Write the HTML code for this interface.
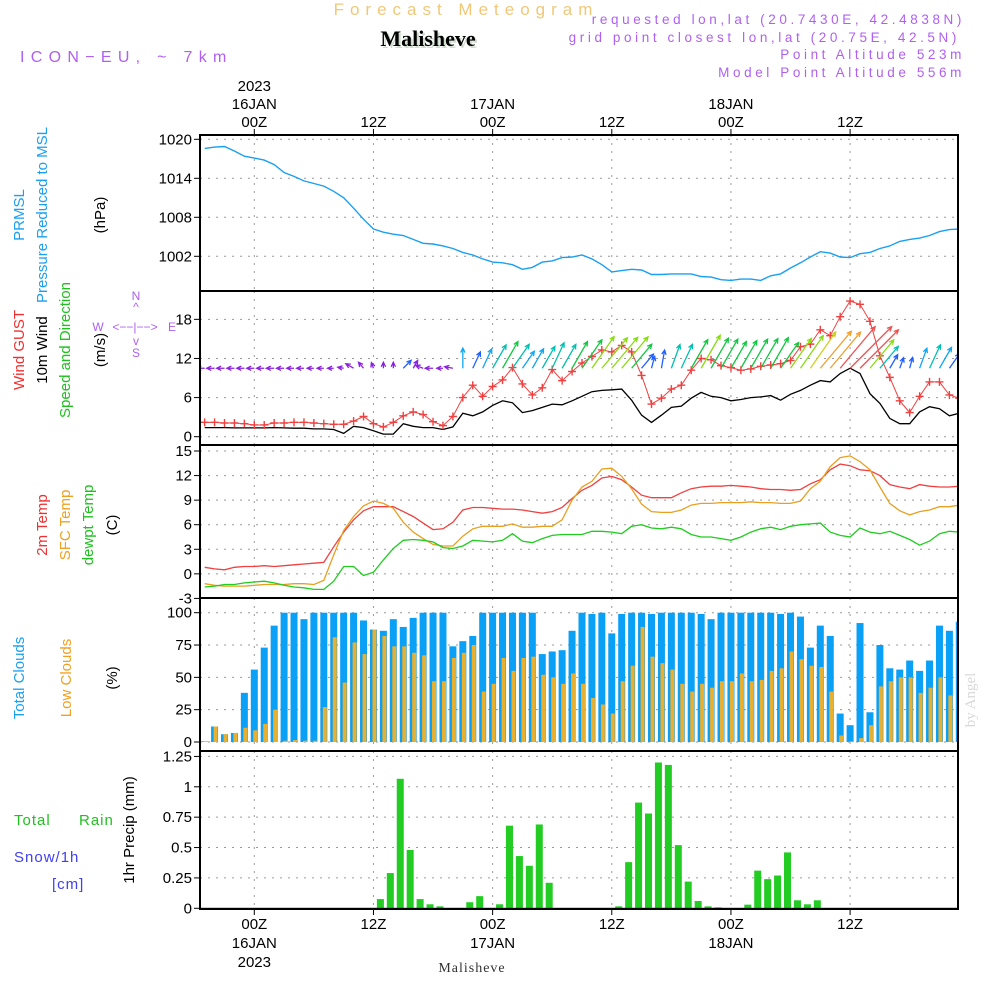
<!DOCTYPE html>
<html><head><meta charset="utf-8"><style>
html,body{margin:0;padding:0;background:#fff;}
svg{display:block;font-family:"Liberation Sans",sans-serif;}
</style></head><body>
<svg id="chart" width="1000" height="1000" viewBox="0 0 1000 1000">
<defs><clipPath id="plotClip"><rect x="200" y="135" width="758" height="774"/></clipPath></defs>
<g id="gGrid"></g>
<g id="gMarks" clip-path="url(#plotClip)"></g>
<g id="gFrame"></g>
<g id="gText">
<text x="466" y="15" font-size="17" fill="#f0c878" text-anchor="middle" letter-spacing="6">Forecast Meteogram</text>
<text x="430" y="48" font-size="22" font-weight="bold" font-family="Liberation Serif,serif" text-anchor="middle" fill="#cfdccf">Malisheve</text>
<text x="428" y="46" font-size="22" font-weight="bold" font-family="Liberation Serif,serif" text-anchor="middle" fill="#000">Malisheve</text>
<text x="20" y="62" font-size="16" fill="#b060f0" letter-spacing="6.3">ICON−EU, ~ 7km</text>
<g font-size="13.5" fill="#b060f0" text-anchor="end" letter-spacing="3.6">
<text x="965" y="24">requested lon,lat (20.7430E, 42.4838N)</text>
<text x="960" y="42">grid point closest lon,lat (20.75E, 42.5N)</text>
<text x="965" y="59">Point Altitude 523m</text>
<text x="965" y="77">Model Point Altitude 556m</text>
</g>
<text x="975" y="700" font-size="15" fill="#d8d8d8" font-family="Liberation Serif,serif" transform="rotate(-90 975 700)" text-anchor="middle">by Angel</text>
<text x="472" y="972" font-size="14" font-family="Liberation Serif,serif" fill="#333" text-anchor="middle" letter-spacing="1">Malisheve</text>
<g font-size="15" text-anchor="middle">
<text transform="translate(24,215) rotate(-90)" fill="#1aa0f0">PRMSL</text>
<text transform="translate(47,215) rotate(-90)" fill="#1aa0f0">Pressure Reduced to MSL</text>
<text transform="translate(105,215) rotate(-90)" fill="#000">(hPa)</text>
</g>
<g font-size="15" text-anchor="middle">
<text transform="translate(24,350) rotate(-90)" fill="#f03030">Wind GUST</text>
<text transform="translate(47,350) rotate(-90)" fill="#000">10m Wind</text>
<text transform="translate(70,350) rotate(-90)" fill="#20c020">Speed and Direction</text>
<text transform="translate(105,350) rotate(-90)" fill="#000">(m/s)</text>
</g>
<g font-size="12" fill="#b060f0" text-anchor="middle">
<text x="136" y="300">N</text><text x="136" y="311">^</text>
<text x="98" y="331">W</text><text x="135" y="331">&lt;−−|−−&gt;</text><text x="172" y="331">E</text>
<text x="136" y="345">v</text><text x="136" y="357">S</text>
</g>
<g font-size="15" text-anchor="middle">
<text transform="translate(47,525) rotate(-90)" fill="#f03030">2m Temp</text>
<text transform="translate(70,525) rotate(-90)" fill="#f0a020">SFC Temp</text>
<text transform="translate(93,525) rotate(-90)" fill="#20c020">dewpt Temp</text>
<text transform="translate(117,525) rotate(-90)" fill="#000">(C)</text>
</g>
<g font-size="15" text-anchor="middle">
<text transform="translate(24,678) rotate(-90)" fill="#1aa0f0">Total Clouds</text>
<text transform="translate(71,678) rotate(-90)" fill="#f0a020">Low Clouds</text>
<text transform="translate(117,678) rotate(-90)" fill="#000">(%)</text>
</g>
<g font-size="15">
<text transform="translate(134,830) rotate(-90)" fill="#000" text-anchor="middle">1hr Precip (mm)</text>
<text x="14" y="825" fill="#20c020" letter-spacing="1">Total</text>
<text x="79" y="825" fill="#20c020" letter-spacing="1">Rain</text>
<text x="14" y="862" fill="#4040f0" letter-spacing="1">Snow/1h</text>
<text x="52" y="889" fill="#4040f0" letter-spacing="1">[cm]</text>
</g>
</g>
</svg>
<script>
// ---------- data (hours -5 .. 71) ----------
const hours = Array.from({length:77},(_,i)=>i-5);
const pressure = [1018.6,1018.8,1018.9,1018.2,1017.4,1017.1,1016.8,1016.1,1014.9,1014.3,1013.6,1013.2,1012.8,1012.0,1011.0,1009.4,1007.7,1006.2,1005.7,1005.4,1005.2,1004.6,1004.0,1003.9,1003.6,1003.2,1002.6,1002.2,1001.6,1001.1,1001.0,1000.7,1000.0,1000.3,1001.1,1001.3,1001.8,1001.9,1002.2,1001.6,1000.7,999.6,999.8,1000.0,999.9,999.2,999.2,999.3,999.3,999.3,998.9,998.8,998.4,998.3,998.5,998.5,998.3,999.0,999.3,1000.2,1001.0,1001.9,1002.7,1002.5,1001.9,1001.8,1002.4,1002.6,1003.2,1003.6,1004.3,1004.6,1004.8,1005.2,1005.8,1006.1,1006.2];
const gust = [2.2,2.2,2.1,2.1,2.0,1.8,1.8,2.1,2.1,2.2,2.2,2.1,2.0,1.9,1.9,2.4,3.1,2.0,1.5,2.2,3.2,3.8,3.4,2.3,1.7,3.1,6.0,7.9,6.2,7.7,8.7,10.6,8.1,6.4,7.5,10.3,8.6,10.0,11.3,12.3,13.3,13.0,14.0,13.0,9.4,5.0,5.9,7.3,7.9,10.2,12.0,11.8,10.9,10.6,10.2,10.4,10.8,11.0,11.2,11.7,13.8,14.2,16.4,15.5,18.4,20.8,20.3,17.7,12.4,9.1,5.5,3.7,6.2,8.4,8.4,6.4,5.9];
const wind10 = [1.4,1.4,1.4,1.35,1.35,1.35,1.35,1.4,1.35,1.3,1.3,1.2,1.2,1.1,0.5,1.6,1.4,0.9,0.4,0.4,2.0,1.6,1.4,1.4,1.1,1.5,3.6,3.2,3.8,4.8,5.5,5.2,3.7,4.0,4.5,5.0,4.9,5.5,6.2,6.9,7.1,7.2,7.3,5.6,3.3,2.2,3.3,4.5,4.7,5.9,6.8,6.2,6.0,5.5,5.7,6.0,6.1,6.3,5.6,6.5,7.1,7.9,8.6,8.4,9.7,10.5,9.7,6.6,5.1,2.8,2.0,2.0,3.8,4.6,4.3,3.2,3.6];
const windDir = [270,270,270,270,270,270,270,270,270,270,270,270,270,270,280,300,320,340,0,0,45,30,290,270,270,280,0,25,25,30,30,35,35,30,30,25,30,30,35,35,40,40,40,40,40,15,10,20,25,30,30,30,30,30,30,30,30,30,35,35,35,35,40,40,40,45,45,40,40,30,20,15,20,25,30,35,45];
const temp2m = [0.8,0.6,0.5,0.8,0.9,0.9,1.0,0.9,1.0,1.1,1.2,1.3,1.4,3.3,5.1,6.6,7.7,8.2,8.2,8.2,7.6,7.0,6.2,5.4,5.5,6.3,7.8,8.1,8.1,8.0,7.9,7.9,7.8,7.6,7.4,7.6,8.1,9.2,10.2,10.8,11.7,11.9,11.5,10.6,9.6,9.3,9.3,9.3,9.9,10.4,10.6,10.7,10.7,10.8,10.7,10.6,10.4,10.3,10.3,10.2,10.3,11.0,11.5,12.7,13.4,13.2,12.7,12.6,12.0,10.9,10.6,10.4,10.9,10.7,10.6,10.6,10.7];
const tempSfc = [-1.2,-1.4,-1.5,-1.5,-1.5,-1.4,-1.3,-1.3,-1.3,-1.2,-1.2,-1.3,-0.8,2.3,5.3,7.0,8.3,8.9,8.6,8.0,6.3,5.1,4.3,3.6,3.4,3.4,4.6,5.5,5.8,5.8,5.8,6.1,5.7,5.7,5.8,5.8,6.6,9.0,10.6,11.3,12.8,12.9,11.9,10.4,8.5,7.6,7.5,7.5,7.8,8.4,8.6,8.6,8.7,8.7,8.7,8.8,8.7,8.7,8.6,8.6,8.9,10.4,11.3,13.1,14.2,14.4,13.7,12.7,10.6,8.6,7.7,7.2,7.6,7.8,8.2,8.2,8.4];
const dewpt = [-1.6,-1.5,-1.3,-1.3,-1.1,-1.0,-0.9,-1.1,-1.4,-1.6,-1.7,-1.9,-1.9,-0.9,0.9,0.9,-0.2,0.2,1.7,3.1,4.1,4.2,4.1,3.9,3.2,3.1,3.4,4.1,4.0,3.9,4.1,4.9,4.0,3.8,4.3,4.7,4.8,4.8,4.8,5.2,5.2,5.1,4.9,5.8,6.0,5.6,5.5,5.7,5.5,4.8,4.5,4.5,4.3,4.1,4.5,5.1,5.5,5.7,5.4,5.8,6.0,6.1,6.2,5.1,4.7,4.5,5.6,5.1,4.9,5.2,4.7,4.2,3.5,4.0,4.9,5.2,5.1];
const totalClouds = [0.5,12,6,7,38,56,73,90,100,100,95,100,100,100,100,100,94,87,86,95,89,96,100,100,100,74,78,82,100,100,100,100,100,100,68,70,71,86,100,99,100,84,99,100,100,99,100,100,100,100,99,95,100,100,100,100,100,100,99,100,97,73,90,82,22,13,92,23,75,57,56,63,55,63,90,86,93];
const lowClouds = [0.5,12,6,7,11,9,14,25,1,1.5,1,1,27,81,46,77,68,87,82,74,74,69,67,47,47,65,69,75,39,45,65,55,65,66,52,50,45,53,45,34,29,22,47,59,89,66,61,56,45,39,45,42,47,47,53,47,48,55,57,70,64,59,58,39,5,0.5,3,13,43,47,50,50,38,42,50,36,47];
const precip = [0,0,0,0,0,0,0,0,0,0,0,0,0,0,0,0,0,0,0.076,0.29,1.066,0.48,0.076,0.033,0.016,0,0,0.05,0.10,0,0.033,0.68,0.43,0.35,0.69,0.21,0,0,0,0,0,0,0.016,0.38,0.87,0.78,1.2,1.18,0.52,0.22,0.06,0.016,0.008,0,0,0.03,0.31,0.24,0.27,0.46,0.066,0.033,0.066,0,0,0,0,0,0,0,0,0,0,0,0,0,0];
const pTicks = [1002,1008,1014,1020];
const wTicks = [0,6,12,18];
const tTicks = [-3,0,3,6,9,12,15];
const cTicks = [0,25,50,75,100];
const rTicks = [0,0.25,0.5,0.75,1,1.25];
const rTickLabels = ["0","0.25","0.5","0.75","1","1.25"];
const timeTicks = [0,12,24,36,48,60];
const timeLabels = ["00Z","12Z","00Z","12Z","00Z","12Z"];
const dayLabels = ["16JAN","","17JAN","","18JAN",""];

// ---------- scales ----------
const X0=200, X1=958;
const xh = h => 254.3 + h*9.93;
const yP = p => 139.3 + (1020-p)*6.5;
const yW = v => 436.7 - v*6.52;
const yT = t => 451 + (15-t)*8.19;
const yC = c => 742 - c*1.293;
const yR = r => 908.3 - r*121.5;
const panels = [
 {name:'pressure', top:135, bot:291, ticks:pTicks, labels:pTicks.map(String), y:yP},
 {name:'wind', top:291, bot:445, ticks:wTicks, labels:wTicks.map(String), y:yW},
 {name:'temp', top:445, bot:598, ticks:tTicks, labels:tTicks.map(String), y:yT},
 {name:'clouds', top:598, bot:751, ticks:cTicks, labels:cTicks.map(String), y:yC},
 {name:'precip', top:751, bot:909, ticks:rTicks, labels:rTickLabels, y:yR}
];
const NS='http://www.w3.org/2000/svg';
function mk(tag, attrs, parent){const e=document.createElementNS(NS,tag);for(const k in attrs)e.setAttribute(k,attrs[k]);parent.appendChild(e);return e;}
const gGrid=document.getElementById('gGrid'), gMarks=document.getElementById('gMarks'), gFrame=document.getElementById('gFrame');

panels.forEach(p=>{
  timeTicks.forEach(h=>{
    const l=mk('line',{x1:xh(h),x2:xh(h),y1:p.top,y2:p.bot,stroke:'#999','stroke-dasharray':'2,6','stroke-width':1},gGrid);
    
    
  });
  p.ticks.forEach((t,i)=>{
    const y=p.y(t);
    if(y>p.top+3 && y<p.bot-3){
      const l=mk('line',{x1:X0,x2:X1,y1:y,y2:y,stroke:'#999','stroke-dasharray':'2,6','stroke-width':1},gGrid);
      
      
    }
    mk('line',{x1:X0-6,x2:X0,y1:y,y2:y,stroke:'#000'},gFrame);
    const tx=mk('text',{x:X0-8,y:y+5,'font-size':15,'text-anchor':'end',fill:'#000'},gFrame);
    tx.textContent=p.labels[i];
    
    
  });
  const r=mk('rect',{x:X0,y:p.top,width:X1-X0,height:p.bot-p.top,fill:'none',stroke:'#000','stroke-width':2},gFrame);
  
  
});
timeTicks.forEach((h,i)=>{
  const x=xh(h);
  mk('line',{x1:x,x2:x,y1:129,y2:135,stroke:'#000'},gFrame);
  mk('line',{x1:x,x2:x,y1:909,y2:915,stroke:'#000'},gFrame);
  const t=mk('text',{x:x,y:127,'font-size':15,'text-anchor':'middle',fill:'#000'},gFrame);
  t.textContent=timeLabels[i];
  
  
  const b=mk('text',{x:x,y:929,'font-size':15,'text-anchor':'middle',fill:'#000'},gFrame);
  b.textContent=timeLabels[i];
  
  
  if(dayLabels[i]){
    const d=mk('text',{x:x,y:109,'font-size':15,'text-anchor':'middle',fill:'#000'},gFrame);
    d.textContent=dayLabels[i];
    
    
    const d2=mk('text',{x:x,y:948,'font-size':15,'text-anchor':'middle',fill:'#000'},gFrame);
    d2.textContent=dayLabels[i];
    
    
  }
});
[[91,'top-year-label'],[967,'bottom-year-label']].forEach(([y,n])=>{
  const t=mk('text',{x:xh(0),y:y,'font-size':15,'text-anchor':'middle',fill:'#000'},gFrame);
  t.textContent='2023';
  
  
});

function line(vals, yf, color, name, w){
  const d=vals.map((v,i)=>(i?'L':'M')+xh(hours[i]).toFixed(1)+','+yf(v).toFixed(1)).join('');
  const p=mk('path',{d:d,fill:'none',stroke:color,'stroke-width':w||1.3},gMarks);
  
  
  return p;
}
totalClouds.forEach((v,i)=>{
  const x=xh(hours[i]);
  const r=mk('rect',{x:x-3.5,y:yC(v),width:7,height:yC(0)-yC(v),fill:'#0aa0f5'},gMarks);
  
  
});
lowClouds.forEach((v,i)=>{
  const x=xh(hours[i]);
  const r=mk('rect',{x:x-1,y:yC(v),width:4,height:yC(0)-yC(v),fill:'#e8b030'},gMarks);
  
  
});
precip.forEach((v,i)=>{
  if(v<=0) return;
  const x=xh(hours[i])-3;
  const r=mk('rect',{x:x-3.5,y:yR(v),width:7,height:yR(0)-yR(v),fill:'#22cc22'},gMarks);
  
  
});
mk('line',{x1:X0,x2:X1,y1:yR(0),y2:yR(0),stroke:'#333','stroke-width':1},gMarks);
line(pressure, yP, '#1aa0f0', 'pressure-line', 1.4);
line(temp2m, yT, '#f04040', 'temp-2m-line');
line(tempSfc, yT, '#e8a020', 'temp-sfc-line');
line(dewpt, yT, '#20cc20', 'dewpoint-line');
line(wind10, yW, '#000', 'wind-10m-line');
line(gust, yW, '#f04040', 'gust-line', 1);
gust.forEach((v,i)=>{
  const x=xh(hours[i]), y=yW(v);
  const g=mk('path',{d:`M${x-4},${y}h8M${x},${y-4}v8`,stroke:'#f04040','stroke-width':1.4},gMarks);
  
  
});
function arrowColor(s){
  if(s<2) return '#8a20e0';
  if(s<3.4) return '#2060ff';
  if(s<4.5) return '#10a8f0';
  if(s<5.5) return '#00c0b0';
  if(s<6.5) return '#10c840';
  if(s<7.4) return '#88dd10';
  if(s<8.2) return '#d0d020';
  if(s<9.2) return '#f0a030';
  return '#f05050';
}
const baseY = yW(10.5);
wind10.forEach((s,i)=>{
  const x=xh(hours[i]);
  const a=windDir[i]*Math.PI/180, L=Math.max(6,s*5.6);
  const ex=x+Math.sin(a)*L, ey=baseY-Math.cos(a)*L;
  const hx1=ex-Math.sin(a-0.45)*5, hy1=ey+Math.cos(a-0.45)*5;
  const hx2=ex-Math.sin(a+0.45)*5, hy2=ey+Math.cos(a+0.45)*5;
  const c=arrowColor(s);
  const p=mk('path',{d:`M${x},${baseY}L${ex},${ey}M${hx1},${hy1}L${ex},${ey}L${hx2},${hy2}`,stroke:c,'stroke-width':1.3,fill:'none'},gMarks);
  
  
});
</script>
</body></html>
